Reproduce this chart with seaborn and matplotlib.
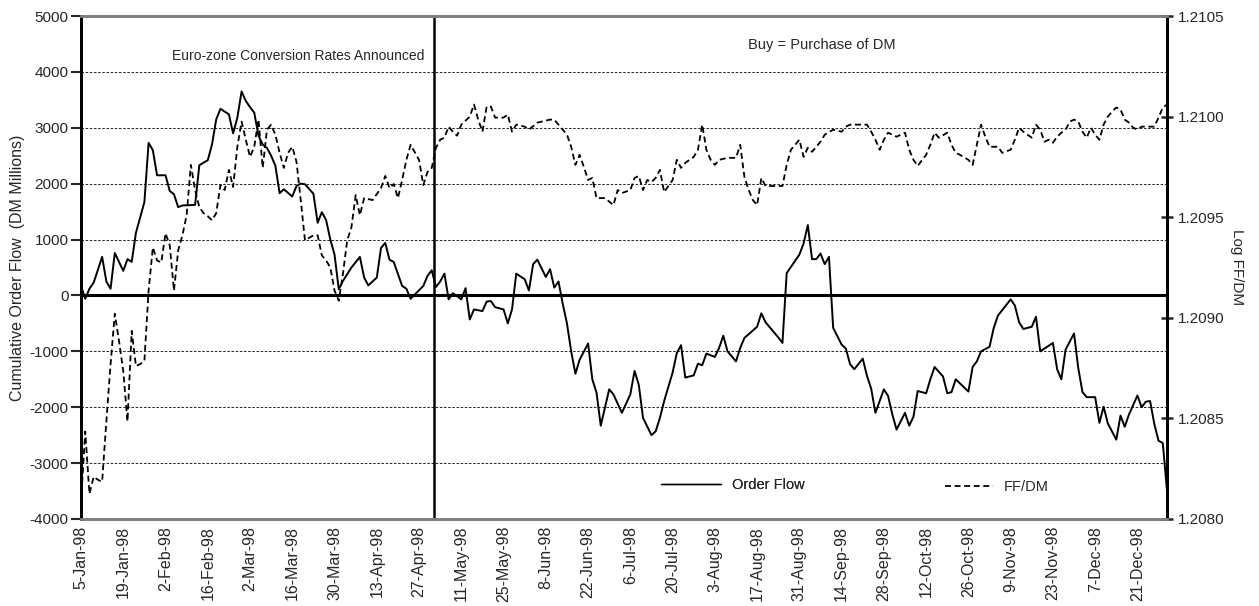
import pandas as pd
import matplotlib
matplotlib.use("Agg")
import matplotlib.pyplot as plt
from matplotlib.lines import Line2D
import seaborn as sns

# trading-day calendar (x axis is a category axis, one slot per weekday)
dates = pd.bdate_range("1998-01-05", periods=258)
tick_pos = list(range(0, 258, 10))
tick_labels = [f"{dates[i].day}-{dates[i]:%b-%y}" for i in tick_pos]

# cumulative order flow (DM millions) at its vertices
of_day = [
    0, 1, 2, 3, 5, 6, 7, 8, 10, 11, 12, 13,
    15, 16, 17, 18, 20, 21, 22, 23, 24, 27, 28, 30,
    31, 32, 33, 35, 36, 37, 38, 39, 40, 41, 42, 43,
    44, 45, 46, 47, 48, 50, 51, 52, 53, 55, 56, 57,
    58, 59, 60, 61, 62, 64, 66, 67, 68, 70, 71, 72,
    73, 74, 76, 77, 78, 81, 82, 83, 84, 85, 86, 87,
    88, 90, 91, 92, 93, 95, 96, 97, 98, 100, 101, 102,
    103, 105, 106, 107, 108, 110, 111, 112, 113, 114, 115, 116,
    117, 118, 120, 121, 122, 123, 125, 126, 128, 130, 131, 132,
    133, 135, 136, 137, 138, 140, 141, 142, 143, 145, 146, 147,
    148, 150, 151, 152, 153, 155, 156, 157, 160, 161, 162, 165,
    166, 167, 170, 171, 172, 173, 174, 175, 176, 177, 178, 180,
    181, 182, 183, 185, 186, 187, 188, 190, 191, 192, 193, 195,
    196, 197, 198, 200, 201, 202, 204, 205, 206, 207, 210, 211,
    212, 213, 215, 216, 217, 220, 221, 222, 223, 225, 226, 227,
    229, 230, 231, 232, 233, 235, 236, 237, 238, 240, 241, 242,
    243, 245, 246, 247, 248, 250, 251, 252, 253, 254, 255, 256, 257,
]
of_val = [
    170, -60, 120, 230, 690, 250, 120, 760, 440, 650, 600, 1120,
    1670, 2730, 2600, 2150, 2150, 1870, 1810, 1580, 1610, 1620, 2330, 2420,
    2700, 3150, 3340, 3240, 2900, 3180, 3650, 3480, 3370, 3270, 2860, 2700,
    2640, 2500, 2320, 1830, 1900, 1770, 1960, 2000, 1990, 1820, 1300, 1490,
    1350, 1000, 730, 110, 260, 500, 690, 320, 180, 320, 850, 940,
    640, 600, 170, 120, -60, 170, 350, 450, 150, 250, 390, -70,
    40, -70, 130, -430, -250, -280, -110, -100, -210, -250, -500, -250,
    390, 290, 90, 560, 640, 330, 470, 140, 250, -150, -500, -1000,
    -1400, -1150, -860, -1500, -1740, -2330, -1680, -1770, -2100, -1770, -1350, -1600,
    -2190, -2500, -2430, -2190, -1890, -1380, -1030, -890, -1470, -1430, -1220, -1250,
    -1040, -1100, -940, -720, -1000, -1180, -940, -760, -560, -320, -480, -750,
    -850, 400, 730, 930, 1260, 650, 650, 750, 560, 690, -580, -880,
    -950, -1230, -1320, -1130, -1440, -1670, -2100, -1680, -1800, -2130, -2400, -2100,
    -2330, -2170, -1710, -1750, -1500, -1280, -1450, -1750, -1730, -1500, -1720, -1280,
    -1180, -1000, -920, -580, -360, -70, -180, -480, -600, -560, -380, -1000,
    -900, -850, -1320, -1500, -970, -680, -1300, -1730, -1820, -1820, -2280, -1990,
    -2290, -2580, -2150, -2350, -2130, -1790, -2000, -1900, -1890, -2300, -2600, -2640, -3490,
]

# log FF/DM exchange rate
fx_day = [
    0, 1, 2, 3, 4, 5, 6, 7, 8, 9, 10, 11,
    12, 13, 14, 15, 16, 17, 18, 19, 20, 21, 22, 23,
    24, 25, 26, 27, 28, 29, 30, 31, 32, 33, 34, 35,
    36, 37, 38, 39, 40, 41, 42, 43, 44, 45, 46, 47,
    48, 49, 50, 51, 52, 53, 55, 56, 57, 58, 59, 60,
    61, 62, 63, 64, 65, 66, 67, 69, 71, 72, 73, 74,
    75, 76, 77, 78, 80, 81, 82, 83, 84, 85, 86, 87,
    88, 89, 90, 92, 93, 94, 95, 96, 97, 98, 100, 101,
    102, 103, 105, 106, 108, 111, 112, 114, 115, 116, 117, 118,
    119, 120, 121, 122, 124, 126, 127, 128, 130, 131, 132, 133,
    134, 135, 136, 137, 138, 140, 141, 142, 143, 145, 146, 147,
    148, 149, 150, 151, 153, 155, 156, 157, 158, 159, 160, 161,
    162, 166, 167, 168, 170, 171, 172, 173, 175, 176, 178, 180,
    181, 182, 186, 187, 188, 189, 190, 191, 193, 195, 196, 197,
    198, 200, 201, 202, 203, 205, 206, 207, 208, 210, 211, 212,
    213, 214, 215, 217, 218, 220, 221, 222, 223, 225, 226, 227,
    228, 229, 230, 231, 232, 233, 234, 235, 236, 237, 238, 239,
    240, 241, 242, 243, 244, 245, 246, 247, 248, 249, 250, 251,
    254, 255, 256, 257,
]
fx_val = [
    1.208085, 1.208435, 1.208125, 1.20821, 1.208195, 1.208185, 1.208485, 1.20877, 1.20902, 1.208885, 1.208735, 1.208485,
    1.208935, 1.20876, 1.20877, 1.208785, 1.209135, 1.20935, 1.209285, 1.209275, 1.20942, 1.20936, 1.209135, 1.209335,
    1.20941, 1.20951, 1.20976, 1.209635, 1.20955, 1.20952, 1.209505, 1.209485, 1.20952, 1.20966, 1.209635, 1.209735,
    1.20965, 1.20985, 1.209975, 1.209885, 1.2098, 1.20985, 1.209985, 1.209745, 1.209935, 1.20996, 1.20991, 1.20982,
    1.209745, 1.20982, 1.20985, 1.209775, 1.209585, 1.209385, 1.20941, 1.20941, 1.20931, 1.209285, 1.20925, 1.209135,
    1.209085, 1.20922, 1.209385, 1.20945, 1.20961, 1.20951, 1.209595, 1.209585, 1.209645, 1.209705, 1.209645, 1.209665,
    1.209595, 1.209685, 1.209785, 1.20986, 1.209785, 1.20966, 1.209725, 1.209745, 1.209845, 1.209885, 1.209895, 1.20995,
    1.209925, 1.209905, 1.20996, 1.21, 1.21006, 1.209985, 1.209925, 1.21005, 1.21005, 1.209995, 1.209995, 1.21001,
    1.209925, 1.20996, 1.20995, 1.209935, 1.20997, 1.209985, 1.209985, 1.209935, 1.20991, 1.20985, 1.20976, 1.20981,
    1.20975, 1.209685, 1.209695, 1.209595, 1.209595, 1.20956, 1.209635, 1.20962, 1.209635, 1.209695, 1.209705, 1.209635,
    1.209685, 1.209675, 1.209695, 1.209735, 1.209625, 1.209685, 1.209785, 1.209745, 1.20977, 1.2098, 1.209835, 1.20996,
    1.209835, 1.209785, 1.20976, 1.209785, 1.209795, 1.209795, 1.20986, 1.2097, 1.209635, 1.209585, 1.20956, 1.209695,
    1.209655, 1.209655, 1.20976, 1.209835, 1.209885, 1.2098, 1.209845, 1.209825, 1.209875, 1.20991, 1.209935, 1.209925,
    1.20995, 1.20996, 1.20996, 1.209925, 1.209885, 1.209835, 1.209885, 1.20992, 1.2099, 1.20992, 1.209835, 1.209785,
    1.209755, 1.20981, 1.20986, 1.20992, 1.209895, 1.20992, 1.20986, 1.20982, 1.20981, 1.209785, 1.20976, 1.20986,
    1.20996, 1.2099, 1.20985, 1.20985, 1.20982, 1.209835, 1.209885, 1.209945, 1.209925, 1.209895, 1.20996, 1.209935,
    1.209875, 1.209885, 1.20987, 1.2099, 1.20992, 1.209935, 1.209975, 1.209985, 1.209975, 1.209925, 1.209895, 1.209945,
    1.20991, 1.209885, 1.20996, 1.21, 1.210025, 1.210045, 1.210035, 1.209985, 1.20997, 1.209945, 1.209935, 1.20995,
    1.20995, 1.209995, 1.210045, 1.21006,
]

announce_day = 83.5  # euro-zone conversion rates announced (weekend of 2-3 May)

sns.set_style("white")
plt.rcParams['font.family'] = ['Liberation Sans', 'DejaVu Sans']
plt.rcParams['axes.unicode_minus'] = False

fig = plt.figure(figsize=(12.59, 6.06), dpi=100)
ax = fig.add_axes([81 / 1259, 1 - 519 / 606, 1086 / 1259, 503 / 606])
ax2 = ax.twinx()

sns.lineplot(x=of_day, y=of_val, ax=ax, color='black', linewidth=1.4, zorder=4)
sns.lineplot(x=fx_day, y=fx_val, ax=ax2, color='black', linewidth=1.3,
             linestyle=(0, (3.3, 2.0)), zorder=4)

ax.set_xlim(0, 257)
ax.set_ylim(-4000, 5000)
ax.set_yticks(range(-4000, 5001, 1000))
ax.yaxis.grid(True, color='black', linestyle=(0, (3, 2)), linewidth=0.6)
ax.axhline(0, color='black', linewidth=2.2, zorder=3)
ax.axvline(announce_day, color='black', linewidth=1.8, zorder=3)

ax2.set_ylim(1.2080, 1.2105)
ax2.set_yticks([1.2080, 1.2085, 1.2090, 1.2095, 1.2100, 1.2105])
ax2.set_yticklabels([f"{v:.4f}" for v in ax2.get_yticks()])

ax.set_xticks(tick_pos)
ax.set_xticklabels(tick_labels, rotation=90)
ax.tick_params(axis='x', length=0, pad=5, labelsize=11.5)
ax.tick_params(axis='y', direction='out', length=7, width=1.5, pad=2, labelsize=11, left=True)
ax2.tick_params(axis='y', direction='inout', length=8, width=1.8, labelsize=11, right=True)

for a in (ax, ax2):
    for side in ('left', 'right'):
        a.spines[side].set_linewidth(2)
        a.spines[side].set_color('black')
    for side in ('top', 'bottom'):
        a.spines[side].set_linewidth(2)
        a.spines[side].set_color('#808080')

ax.set_ylabel("Cumulative Order Flow  (DM Millions)", fontsize=11.5, va='center')
ax.yaxis.set_label_coords(-0.0585, 0.5)
ax2.set_ylabel("Log FF/DM", fontsize=11, rotation=270, va='center')
ax2.yaxis.set_label_coords(1.0645, 0.5)
ax.set_xlabel("")

ax.text(0.1998, 0.9195, "Euro-zone Conversion Rates Announced", transform=ax.transAxes,
        ha='center', va='center', fontsize=10)
ax.text(0.6823, 0.9423, "Buy = Purchase of DM", transform=ax.transAxes,
        ha='center', va='center', fontsize=10.5)

h1 = Line2D([], [], color='black', linewidth=1.0)
h2 = Line2D([], [], color='black', linewidth=1.3, linestyle=(0, (3.3, 2.0)))
leg1 = ax.legend([h1], ["Order Flow"], loc='center left', bbox_to_anchor=(0.534, 0.0676),
                 frameon=False, fontsize=10.5, handlelength=4.1, handletextpad=0.8,
                 borderpad=0, borderaxespad=0)
ax.add_artist(leg1)
ax2.legend([h2], ["FF/DM"], loc='center left', bbox_to_anchor=(0.7956, 0.0636),
           frameon=False, fontsize=10.5, handlelength=3.3, handletextpad=0.7,
           borderpad=0, borderaxespad=0)

fig.savefig("out.png", dpi=100)
